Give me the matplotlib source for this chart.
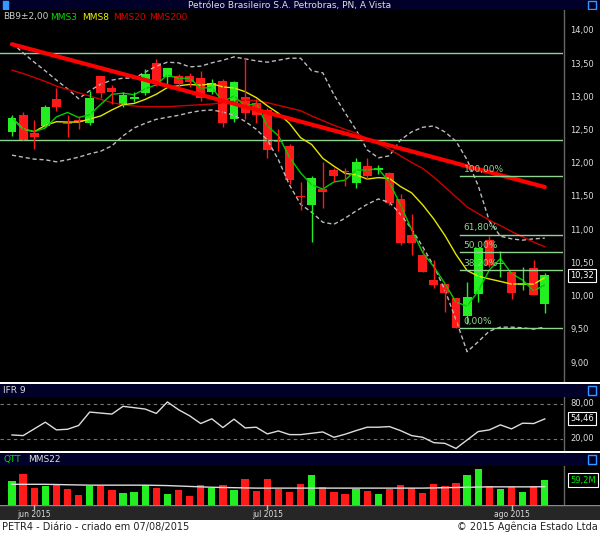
import matplotlib
matplotlib.use("Agg")
import matplotlib.pyplot as plt
import numpy as np
import pandas as pd
from matplotlib.patches import Rectangle

plt.rcParams['font.family'] = ['DejaVu Sans']

opens  = [12.48,12.73,12.46,12.57,12.98,12.62,12.66,12.61,13.32,13.14,12.89,12.98,13.07,13.52,13.31,13.32,13.32,13.29,13.08,13.25,
          12.67,13.00,12.92,12.81,12.36,12.27,11.52,11.38,11.62,11.91,11.88,11.71,11.97,11.91,11.86,11.47,10.93,10.63,10.25,10.19,
          9.98,9.71,10.04,10.85,10.49,10.37,10.17,10.43,9.89]
closes = [12.69,12.36,12.40,12.86,12.86,12.60,12.63,12.99,13.07,13.08,13.04,13.00,13.35,13.22,13.44,13.20,13.23,12.99,13.22,12.61,
          13.23,12.77,12.73,12.21,12.33,11.76,11.50,11.79,11.57,11.82,11.87,12.03,11.82,11.93,11.41,10.81,10.81,10.37,10.17,10.05,
          9.53,9.99,10.73,10.48,10.51,10.05,10.19,10.02,10.32]
highs  = [12.74,12.78,12.66,12.88,13.14,12.73,12.72,13.09,13.32,13.18,13.08,13.08,13.42,13.58,13.44,13.35,13.37,13.40,13.28,13.27,
          13.24,13.59,12.98,12.84,12.52,12.30,11.72,11.81,12.02,11.94,11.94,12.08,12.08,11.98,11.88,11.54,11.24,10.71,10.55,10.19,
          9.98,10.22,10.73,10.92,10.69,10.37,10.44,10.55,10.35]
lows   = [12.42,12.36,12.23,12.55,12.80,12.40,12.52,12.58,12.99,12.90,12.86,12.93,13.04,13.17,13.20,13.14,13.15,12.95,13.05,12.55,
          12.63,12.67,12.62,12.08,12.20,11.70,11.30,10.82,11.34,11.73,11.66,11.64,11.77,11.85,11.38,10.77,10.62,10.37,10.13,9.77,
          9.53,9.59,9.92,10.45,10.30,9.97,10.10,10.02,9.76]
bb_upper = [13.82,13.67,13.53,13.40,13.26,13.13,12.98,13.10,13.20,13.26,13.29,13.29,13.38,13.47,13.53,13.52,13.46,13.47,13.52,13.56,
            13.61,13.58,13.55,13.53,13.56,13.59,13.59,13.40,13.37,13.04,12.77,12.51,12.21,12.09,12.12,12.36,12.48,12.55,12.57,12.48,
            12.34,12.06,11.67,11.14,10.91,10.87,10.85,10.87,10.88]
bb_lower = [12.13,12.10,12.07,12.06,12.03,12.06,12.10,12.15,12.19,12.27,12.42,12.54,12.61,12.67,12.70,12.73,12.77,12.80,12.81,12.78,
            12.73,12.64,12.52,12.36,12.06,11.68,11.39,11.27,11.12,11.09,11.18,11.29,11.39,11.47,11.42,11.24,11.02,10.75,10.46,10.10,
            9.65,9.17,9.32,9.48,9.54,9.54,9.53,9.51,9.54]
mms20 = [13.41,13.36,13.30,13.24,13.17,13.12,13.07,13.02,12.97,12.92,12.89,12.87,12.86,12.86,12.86,12.87,12.88,12.89,12.90,12.92,
         12.94,12.96,12.95,12.92,12.88,12.84,12.80,12.72,12.65,12.58,12.52,12.46,12.38,12.30,12.22,12.12,12.02,11.93,11.80,11.65,
         11.50,11.35,11.25,11.15,11.07,10.98,10.90,10.82,10.75]
mms200_idx = [0, 48]
mms200_val = [13.80, 11.65]
hlines = [13.67, 12.36]
fib_labels = ["100,00%", "61,80%", "50,00%", "38,20%", "0,00%"]
fib_levels = [11.81, 10.93, 10.665, 10.395, 9.52]
rsi = [26.9,25.8,37.3,48.8,35.6,36.7,43.1,66.2,64.4,62.7,76.0,73.7,71.3,63.8,83.5,70.2,59.8,46.5,54.6,39.6,
       54.0,39.0,40.2,28.7,33.8,27.5,27.5,29.8,32.1,22.9,28.1,34.4,40.2,40.2,41.3,34.4,25.8,22.9,13.7,12.5,
       3.8,18.3,32.7,35.6,44.2,37.3,47.1,46.5,54.46]
volume = [56.8,72.6,41.0,45.8,48.9,37.1,23.7,45.0,45.0,35.5,29.2,31.6,47.4,41.0,26.0,35.5,22.1,47.4,39.5,47.4,
          35.5,61.6,33.2,61.6,37.9,31.6,49.7,71.0,41.8,31.6,26.0,37.9,33.9,26.0,37.9,47.4,39.5,29.2,49.7,45.0,
          51.3,71.0,85.2,45.0,37.1,41.8,31.6,45.0,59.2]
vol_mms22 = [49,49,49,49,48.5,48,47.5,47,47,47,47,47,47,46.5,46,45,44,43,42,41.5,41,40.5,40,40,40,40,40,40,40,40,
             40,40,40,40,40,40,40,40,40.5,41,41.5,42,42.5,43,43,43,43,43,43.4]
date_ticks = [2, 23, 45]
date_labels = ["jun 2015", "jul 2015", "ago 2015"]
price_ticks = [14.0,13.5,13.0,12.5,12.0,11.5,11.0,10.5,10.0,9.5,9.0]

W, H = 600, 534
fig = plt.figure(figsize=(W/100, H/100), dpi=100)
fig.patch.set_facecolor('white')
def ax_px(x0, y0, x1, y1, **kw):
    return fig.add_axes([x0/W, 1-y1/H, (x1-x0)/W, (y1-y0)/H], **kw)

GREEN = '#22ee22'; RED = '#ff1a1a'; NAVY = '#000028'
idx = np.arange(len(closes))
XL = (-12/11.1, (563-12)/11.1)

def bar(y0, y1, txt, color):
    a = ax_px(0, y0, 600, y1); a.set_facecolor(NAVY); a.set_xticks([]); a.set_yticks([])
    for s in a.spines.values(): s.set_visible(False)
    a.set_xlim(0, 600); a.set_ylim(0, 1)
    return a

# title bar
tb = bar(0, 10, '', '')
tb.text(290, 0.45, "Petróleo Brasileiro S.A. Petrobras, PN, A Vista", color='#e0e0e0', fontsize=6.5, ha='center', va='center')
tb.add_patch(Rectangle((3, 0.1), 5, 0.8, color='#3399ff'))
tb.add_patch(Rectangle((588, 0.1), 8, 0.8, fill=False, ec='#3399ff', lw=1))

# main
ax = ax_px(0, 10, 563, 382); ax.set_facecolor('black')
ax.set_xlim(*XL); ax.set_ylim(8.714, 14.316)
ax.set_xticks([]); ax.set_yticks([])
for s in ax.spines.values(): s.set_visible(False)
for h in hlines:
    ax.axhline(h, color='#8fd48f', lw=1)
ax.plot(idx, bb_upper, color='#bbbbbb', lw=1, ls=(0, (3, 2)))
ax.plot(idx, bb_lower, color='#bbbbbb', lw=1, ls=(0, (3, 2)))
ax.plot(idx, mms20, color='#cc0000', lw=1)
c = pd.Series(closes)
ax.plot(idx, c.rolling(8, min_periods=1).mean(), color='#e6e600', lw=1)
ax.plot(idx, c.rolling(3, min_periods=1).mean(), color='#00cc00', lw=1)
for i in idx:
    col = GREEN if closes[i] >= opens[i] else RED
    ax.vlines(i, lows[i], highs[i], color=col, lw=1)
    lo, hi = sorted([opens[i], closes[i]])
    ax.add_patch(Rectangle((i-0.4, lo), 0.8, max(hi-lo, 0.015), color=col, lw=0))
ax.plot(mms200_idx, mms200_val, color='#ff0000', lw=3, solid_capstyle='round')
for lab, lv in zip(fib_labels, fib_levels):
    ax.plot([40.4, 49.6], [lv, lv], color='#8fd48f', lw=1)
    ax.text(40.7, lv+0.04, lab, color='#8fd48f', fontsize=6.5, va='bottom')
lx = [3, 50, 82, 113, 149]
for x, t, col in zip(lx, ["BB9±2,00", "MMS3", "MMS8", "MMS20", "MMS200"], ['#cccccc', '#00dd00', '#eeee00', '#dd0000', '#dd0000']):
    fig.text(x/W, 1-17/H, t, color=col, fontsize=6.5, va='center')

# main right axis
rax = ax_px(563, 10, 600, 382); rax.set_facecolor('black')
rax.set_ylim(8.714, 14.316); rax.set_xlim(0, 1); rax.set_xticks([]); rax.set_yticks([])
for s in rax.spines.values(): s.set_visible(False)
rax.axvline(0.03, color='#666666', lw=1)
for p in price_ticks:
    rax.text(0.2, p, f"{p:.2f}".replace('.', ','), color='#dddddd', fontsize=6, va='center')
rax.text(0.2, closes[-1], f"{closes[-1]:.2f}".replace('.', ','), color='white', fontsize=6, va='center',
         bbox=dict(boxstyle='square,pad=0.25', fc='black', ec='white', lw=0.8))

# white separator implicit; RSI header
hb = bar(384, 397, '', '')
hb.text(3, 0.5, "IFR 9", color='#dddddd', fontsize=6.5, va='center')
hb.add_patch(Rectangle((588, 0.15), 8, 0.7, fill=False, ec='#3399ff', lw=1))
ra = ax_px(0, 397, 563, 451); ra.set_facecolor('black')
ra.set_xlim(*XL); ra.set_ylim(-0.6, 92); ra.set_xticks([]); ra.set_yticks([])
for s in ra.spines.values(): s.set_visible(False)
for lv in [80, 20]:
    ra.axhline(lv, color='#777777', lw=0.8, ls=(0, (3, 3)))
ra.plot(idx, rsi, color='#dddddd', lw=1)
rra = ax_px(563, 397, 600, 451); rra.set_facecolor('black')
rra.set_xlim(0, 1); rra.set_ylim(-0.6, 92); rra.set_xticks([]); rra.set_yticks([])
for s in rra.spines.values(): s.set_visible(False)
rra.axvline(0.03, color='#666666', lw=1)
for lv in [80, 20]:
    rra.text(0.2, lv, f"{lv:.2f}".replace('.', ','), color='#dddddd', fontsize=6, va='center')
rra.text(0.2, rsi[-1], f"{rsi[-1]:.2f}".replace('.', ','), color='white', fontsize=6, va='center',
         bbox=dict(boxstyle='square,pad=0.25', fc='black', ec='white', lw=0.8))

# Volume header
qb = bar(453, 466, '', '')
qb.text(3, 0.5, "QTT", color='#00dd00', fontsize=6.5, va='center')
qb.text(28, 0.5, "MMS22", color='#dddddd', fontsize=6.5, va='center')
qb.add_patch(Rectangle((588, 0.15), 8, 0.7, fill=False, ec='#3399ff', lw=1))
va = ax_px(0, 466, 563, 505); va.set_facecolor('black')
va.set_xlim(*XL); va.set_ylim(0, 92.4); va.set_xticks([]); va.set_yticks([])
for s in va.spines.values(): s.set_visible(False)
vcols = [GREEN if closes[i] >= opens[i] else RED for i in idx]
va.bar(idx, volume, width=0.65, color=vcols)
va.plot(idx, vol_mms22, color='#dddddd', lw=1)
rva = ax_px(563, 466, 600, 505); rva.set_facecolor('black')
rva.set_xlim(0, 1); rva.set_ylim(0, 92.4); rva.set_xticks([]); rva.set_yticks([])
for s in rva.spines.values(): s.set_visible(False)
rva.axvline(0.03, color='#666666', lw=1)
rva.text(0.2, volume[-1], f"{volume[-1]:.1f}M".replace('.', ','), color='#00ee00', fontsize=6, va='center',
         bbox=dict(boxstyle='square,pad=0.25', fc='black', ec='white', lw=0.8))

# date axis
da = ax_px(0, 505, 600, 520); da.set_facecolor('#262626')
da.set_xlim(XL[0], XL[0] + (XL[1]-XL[0])*600/563); da.set_ylim(0, 1); da.set_yticks([]); da.set_xticks([])
for s in da.spines.values(): s.set_visible(False)
da.axhline(0.97, color='#888888', lw=1)
for t, l in zip(date_ticks, date_labels):
    da.plot([t, t], [0.75, 1], color='#bbbbbb', lw=1)
    da.text(t, 0.35, l, color='#dddddd', fontsize=5.5, ha='center', va='center')

fig.text(2/W, 1-527/H, "PETR4 - Diário - criado em 07/08/2015", fontsize=7, color='#222222', va='center')
fig.text(598/W, 1-527/H, "© 2015 Agência Estado Ltda", fontsize=7, color='#222222', va='center', ha='right')

fig.savefig("out.png", dpi=100, facecolor='white')
